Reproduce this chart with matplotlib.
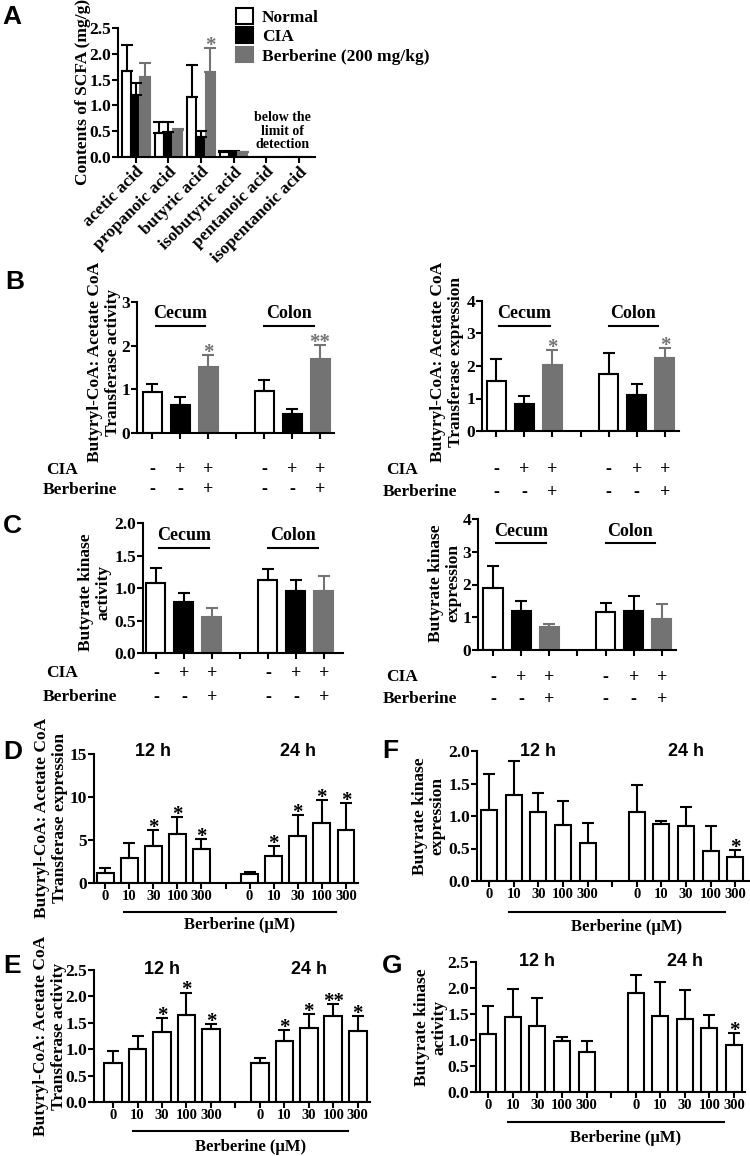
import matplotlib.pyplot as plt
import numpy as np
from matplotlib import transforms
from matplotlib.patches import Patch

# ---------------- data ----------------
scfa_acids = ['acetic acid', 'propanoic acid', 'butyric acid',
              'isobutyric acid', 'pentanoic acid', 'isopentanoic acid']
a_normal = [1.67, 0.46, 1.16, 0.09, 0, 0]
a_normal_err = [0.50, 0.21, 0.62, 0.02, 0, 0]
a_cia = [1.21, 0.48, 0.39, 0.09, 0, 0]
a_cia_err = [0.23, 0.19, 0.12, 0.02, 0, 0]
a_berb = [1.56, 0.53, 1.65, 0.09, 0, 0]
a_berb_err = [0.27, 0.01, 0.46, 0.01, 0, 0]
a_berb_sig = ['', '', '*', '', '', '']

cia_signs = ['-', '+', '+', '-', '+', '+']
berb_signs = ['-', '-', '+', '-', '-', '+']

# B: butyryl-CoA:acetate CoA transferase (cecum N, CIA, Ber | colon N, CIA, Ber)
b_act_mean = [0.94, 0.65, 1.51, 0.97, 0.44, 1.69]
b_act_err = [0.19, 0.17, 0.27, 0.24, 0.12, 0.33]
b_act_sig = ['', '', '*', '', '', '**']
b_exp_mean = [1.54, 0.82, 2.03, 1.74, 1.10, 2.25]
b_exp_err = [0.68, 0.26, 0.46, 0.65, 0.35, 0.29]
b_exp_sig = ['', '', '*', '', '', '*']

# C: butyrate kinase
c_act_mean = [1.07, 0.79, 0.56, 1.13, 0.96, 0.95]
c_act_err = [0.24, 0.14, 0.13, 0.16, 0.17, 0.23]
c_exp_mean = [1.89, 1.20, 0.71, 1.16, 1.20, 0.96]
c_exp_err = [0.66, 0.31, 0.09, 0.27, 0.46, 0.44]
no_sig = [''] * 6

# D-G: in vitro, 12 h (0,10,30,100,300 uM) then 24 h
conc_labels = ['0', '10', '30', '100', '300']
d_mean = [1.19, 2.85, 4.3, 5.7, 3.9, 1.1, 3.1, 5.5, 7.0, 6.2]
d_err = [0.58, 1.75, 1.85, 2.0, 1.2, 0.2, 1.17, 2.4, 2.65, 3.1]
d_sig = ['', '', '*', '*', '*', '', '*', '*', '*', '*']
e_mean = [0.74, 1.01, 1.32, 1.64, 1.38, 0.73, 1.15, 1.40, 1.63, 1.35]
e_err = [0.22, 0.24, 0.27, 0.43, 0.10, 0.11, 0.21, 0.26, 0.22, 0.28]
e_sig = ['', '', '*', '*', '*', '', '*', '*', '**', '*']
f_mean = [1.10, 1.32, 1.06, 0.86, 0.58, 1.06, 0.87, 0.84, 0.46, 0.37]
f_err = [0.54, 0.52, 0.29, 0.37, 0.31, 0.42, 0.06, 0.30, 0.38, 0.11]
f_sig = [''] * 9 + ['*']
g_mean = [1.12, 1.45, 1.26, 0.99, 0.77, 1.90, 1.46, 1.41, 1.23, 0.90]
g_err = [0.54, 0.53, 0.55, 0.06, 0.22, 0.35, 0.65, 0.56, 0.25, 0.23]
g_sig = [''] * 9 + ['*']

# ---------------- style ----------------
SERIF = 'Liberation Serif'
SANS = 'Liberation Sans'
GRAY = '#737373'
plt.rcParams['font.family'] = SERIF
plt.rcParams['font.weight'] = 'bold'
plt.rcParams['axes.linewidth'] = 1.5

W, H = 750, 1156
fig = plt.figure(figsize=(7.5, 11.56), dpi=100)


def fx(x):
    return x / W


def fy(y):
    return 1 - y / H


def px_axes(l, r, t, b):
    return fig.add_axes([fx(l), fy(b), (r - l) / W, (b - t) / H])


def style(ax, ylim, yticks, fmt, xlim):
    ax.spines[['top', 'right']].set_visible(False)
    ax.set_ylim(*ylim)
    ax.set_yticks(yticks)
    ax.set_yticklabels([fmt.format(v) for v in yticks])
    ax.set_xlim(*xlim)
    ax.tick_params(width=1.5, length=4, labelsize=12.5, pad=1)


def bars(ax, x, mean, err, colors, width, sig, sigcolors):
    edge = ['black' if c != GRAY else GRAY for c in colors]
    ax.bar(x, mean, width=width, color=colors, edgecolor=edge, linewidth=1.5, zorder=2)
    for xi, m, e, c, s, sc in zip(x, mean, err, edge, sig, sigcolors):
        if e > 0:
            ax.errorbar(xi, m, yerr=[[0], [e]], fmt='none', ecolor=c,
                        elinewidth=1.5, capsize=4, capthick=1.5, zorder=3)
        if s:
            ax.annotate(s, (xi, m + e), xytext=(0, -2), textcoords='offset points',
                        ha='center', va='baseline', fontsize=15, color=sc)


def ylabel(text, x, y, size=12.5):
    fig.text(fx(x), fy(y), text, rotation=90, ha='center', va='center',
             fontsize=size, linespacing=1.1)


def panel(letter, x, y):
    fig.text(fx(x), fy(y), letter, family=SANS, fontsize=19, ha='center', va='center')


# ---------------- A ----------------
axA = px_axes(118, 315, 28, 157)
xa = np.arange(len(scfa_acids))
bw = 0.28
bars(axA, xa - bw, a_normal, a_normal_err, ['white'] * 6, bw, no_sig, ['k'] * 6)
bars(axA, xa, a_cia, a_cia_err, ['black'] * 6, bw, no_sig, ['k'] * 6)
bars(axA, xa + bw, a_berb, a_berb_err, [GRAY] * 6, bw, a_berb_sig, [GRAY] * 6)
style(axA, (0, 2.5), [0, 0.5, 1.0, 1.5, 2.0, 2.5], '{:.1f}', (-0.55, 5.5))
axA.set_xticks(xa)
axA.set_xticklabels(scfa_acids, rotation=45, ha='right', rotation_mode='anchor', fontsize=12.5)
axA.text(4.5, 0.5, 'below the\nlimit of\ndetection', ha='center', va='center',
         fontsize=10, linespacing=1.05)
handles = [Patch(facecolor='white', edgecolor='black', linewidth=1.5),
           Patch(facecolor='black', edgecolor='black', linewidth=1.5),
           Patch(facecolor=GRAY, edgecolor=GRAY, linewidth=1.5)]
axA.legend(handles, ['Normal', 'CIA', 'Berberine (200 mg/kg)'], loc='upper left',
           bbox_to_anchor=(fx(236), fy(8)), bbox_transform=fig.transFigure,
           frameon=False, handlelength=1.0, handleheight=1.0, handletextpad=0.5,
           labelspacing=0.1, borderpad=0, borderaxespad=0,
           prop=dict(size=12.5, weight='bold'))
ylabel('Contents of SCFA (mg/g)', 83, 92)
panel('A', 12, 17)

# ---------------- B & C ----------------
tissue_x = [0, 1, 2, 4, 5, 6]
tissue_colors = ['white', 'black', GRAY] * 2


def tissue_panel(box, mean, err, sig, ylim, yticks, fmt, xlim, txt_y, line_y,
                 cia_y, ber_y, lab_x):
    ax = px_axes(*box)
    bars(ax, tissue_x, mean, err, tissue_colors, 0.68, sig, [GRAY] * 6)
    style(ax, ylim, yticks, fmt, xlim)
    ax.set_xticks(range(7))
    ax.set_xticklabels([])
    tr = transforms.blended_transform_factory(ax.transData, fig.transFigure)
    for name, c, l0, l1 in [('Cecum', 1.0, 0.12, 1.9), ('Colon', 4.88, 4.0, 5.77)]:
        ax.text(c, fy(txt_y), name, transform=tr, ha='center', va='center',
                fontsize=13, clip_on=False)
        ax.plot([l0, l1], [fy(line_y)] * 2, transform=tr, color='black', lw=1.5,
                clip_on=False)
    for xi, cs, bs in zip(tissue_x, cia_signs, berb_signs):
        ax.text(xi, fy(cia_y), cs, transform=tr, ha='center', va='center', fontsize=13)
        ax.text(xi, fy(ber_y), bs, transform=tr, ha='center', va='center', fontsize=13)
    fig.text(fx(lab_x), fy(cia_y), 'CIA', ha='left', va='center', fontsize=12.5)
    fig.text(fx(lab_x - 3), fy(ber_y), 'Berberine', ha='left', va='center', fontsize=12.5)
    return ax


tissue_panel((137, 334, 302, 433), b_act_mean, b_act_err, b_act_sig, (0, 3), [0, 1, 2, 3],
             '{:d}', (-0.55, 6.5), 313, 326, 470, 490, 46)
ylabel('Butyryl-CoA: Acetate CoA\nTransferase activity', 104, 362)
tissue_panel((482, 679, 301, 431), b_exp_mean, b_exp_err, b_exp_sig, (0, 4), [0, 1, 2, 3, 4],
             '{:d}', (-0.5, 6.5), 313, 326, 470, 492, 386)
ylabel('Butyryl-CoA: Acetate CoA\nTransferase expression', 447, 362)
panel('B', 15, 282)

tissue_panel((143, 343, 523, 653), c_act_mean, c_act_err, no_sig, (0, 2.0),
             [0, 0.5, 1.0, 1.5, 2.0], '{:.1f}', (-0.46, 6.68), 535, 548, 673, 697, 46)
ylabel('Butyrate kinase\nactivity', 95, 592)
tissue_panel((478, 676, 519, 650), c_exp_mean, c_exp_err, no_sig, (0, 4), [0, 1, 2, 3, 4],
             '{:d}', (-0.53, 6.5), 532, 543, 677, 699, 386)
ylabel('Butyrate kinase\nexpression', 445, 583)
panel('C', 12, 526)

# ---------------- D-G ----------------
dose_x = [0, 1, 2, 3, 4, 6, 7, 8, 9, 10]


def dose_panel(box, mean, err, sig, ylim, yticks, fmt, xlim, width, h_y, line_y, txt_y):
    ax = px_axes(*box)
    bars(ax, dose_x, mean, err, ['white'] * 10, width, sig, ['black'] * 10)
    style(ax, ylim, yticks, fmt, xlim)
    ax.set_xticks(range(11))
    ax.set_xticklabels(conc_labels + [''] + conc_labels, fontsize=10.5)
    tr = transforms.blended_transform_factory(ax.transData, fig.transFigure)
    for c, lab in [(2, '12 h'), (8, '24 h')]:
        ax.text(c, fy(h_y), lab, transform=tr, family=SANS, ha='center', va='center',
                fontsize=13)
    ax.plot([0.8, 9.6], [fy(line_y)] * 2, transform=tr, color='black', lw=1.5, clip_on=False)
    ax.text(5.6, fy(txt_y), 'Berberine (\u03bcM)', transform=tr, ha='center', va='center',
            fontsize=12)
    return ax


dose_panel((94, 358, 754, 883), d_mean, d_err, d_sig, (0, 15), [0, 5, 10, 15], '{:d}',
           (-0.46, 10.5), 0.7, 752, 912, 925)
ylabel('Butyryl-CoA: Acetate CoA\nTransferase expression', 51, 818)
panel('D', 13, 752)

dose_panel((94, 370, 970, 1102), e_mean, e_err, e_sig, (0, 2.5),
           [0, 0.5, 1.0, 1.5, 2.0, 2.5], '{:.1f}', (-0.78, 10.5), 0.72, 970, 1131, 1147)
ylabel('Butyryl-CoA: Acetate CoA\nTransferase activity', 50, 1036)
panel('E', 12, 966)

dose_panel((477, 750, 751, 881), f_mean, f_err, f_sig, (0, 2.0),
           [0, 0.5, 1.0, 1.5, 2.0], '{:.1f}', (-0.49, 10.6), 0.65, 751, 912, 927)
ylabel('Butyrate kinase\nexpression', 429, 816)
panel('F', 390, 751)

dose_panel((476, 745, 962, 1092), g_mean, g_err, g_sig, (0, 2.5),
           [0, 0.5, 1.0, 1.5, 2.0, 2.5], '{:.1f}', (-0.5, 10.45), 0.65, 962, 1122, 1138)
ylabel('Butyrate kinase\nactivity', 431, 1027)
panel('G', 392, 966)

fig.savefig('out.png', dpi=100)
